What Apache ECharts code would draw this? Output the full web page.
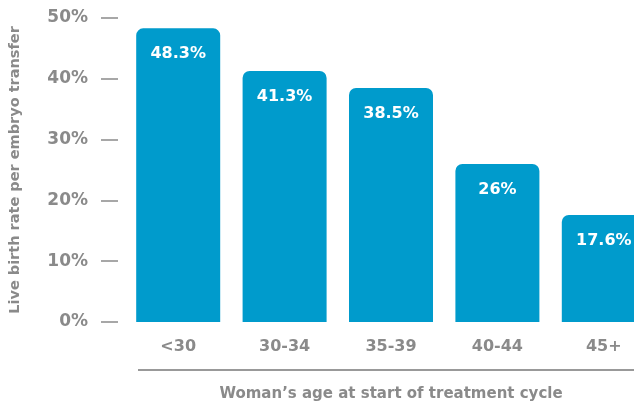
<!DOCTYPE html>
<html><head><meta charset="utf-8">
<script src="https://cdn.jsdelivr.net/npm/echarts@6/dist/echarts.min.js"></script>
<style>html,body{margin:0;padding:0;background:#fff}#c{width:634px;height:403px}</style>
</head><body><div id="c"></div>
<script>
const categories = ['<30', '30-34', '35-39', '40-44', '45+'];
const liveBirthRate = [48.3, 41.3, 38.5, 26, 17.6];
const yTicks = [0, 10, 20, 30, 40, 50];
const yTitle = 'Live birth rate per embryo transfer';
const xTitle = 'Woman\u2019s age at start of treatment cycle';

const gray = '#8a8a8a';
const font = '"DejaVu Sans", Verdana, sans-serif';
const chart = echarts.init(document.getElementById('c'));
chart.setOption({
  animation: false,
  grid: { left: 125, right: -23, top: 18, bottom: 81, containLabel: false, outerBoundsMode: 'none' },
  xAxis: {
    type: 'category', data: categories,
    axisLine: { show: false }, axisTick: { show: false },
    axisLabel: { color: gray, fontFamily: font, fontWeight: 'bold', fontSize: 16, margin: 17 },
    name: xTitle, nameLocation: 'middle', nameGap: 65,
    nameTextStyle: { color: gray, fontFamily: font, fontWeight: 'bold', fontSize: 15 }
  },
  yAxis: {
    type: 'value', min: yTicks[0], max: yTicks[yTicks.length - 1], interval: 10,
    offset: 7,
    splitLine: { show: false },
    axisLine: { show: false },
    axisTick: { show: true, length: 17, lineStyle: { color: gray, width: 1.5 } },
    axisLabel: { color: gray, fontFamily: font, fontWeight: 'bold', fontSize: 17, margin: 30, formatter: '{value}%' },
    name: yTitle, nameLocation: 'middle', nameGap: 95,
    nameTextStyle: { color: gray, fontFamily: font, fontWeight: 'bold', fontSize: 14.5 }
  },
  graphic: [{
    type: 'line', shape: { x1: 138, y1: 370, x2: 634, y2: 370 },
    style: { stroke: '#999', lineWidth: 2 }
  }],
  series: [{
    type: 'bar', data: liveBirthRate, barWidth: 84,
    itemStyle: { color: '#009bcc', borderRadius: [7, 7, 0, 0] },
    label: {
      show: true, position: 'insideTop', distance: 18,
      color: '#fff', fontFamily: font, fontWeight: 'bold', fontSize: 16,
      formatter: p => p.value + '%'
    }
  }]
});
</script></body></html>
